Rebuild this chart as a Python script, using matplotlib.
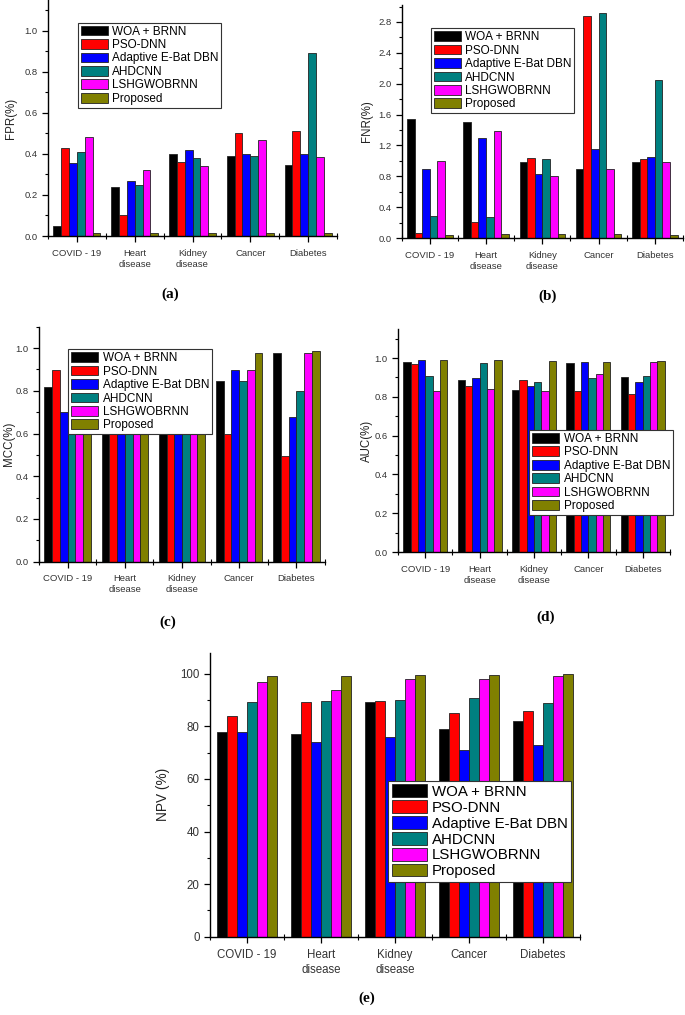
import numpy as np
import matplotlib
matplotlib.use('Agg')
import matplotlib.pyplot as plt
from matplotlib.ticker import MultipleLocator, FixedLocator

plt.rcParams['font.family'] = ['Liberation Sans', 'DejaVu Sans']

# categories and methods
categories = ['COVID - 19', 'Heart\ndisease', 'Kidney\ndisease', 'Cancer', 'Diabetes']
methods = ['WOA + BRNN', 'PSO-DNN', 'Adaptive E-Bat DBN', 'AHDCNN', 'LSHGWOBRNN', 'Proposed']
colors = ['#000000', '#FF0000', '#0000FF', '#008080', '#FF00FF', '#808000']

# values, one row per method (order of categories)
fpr_woa = [0.05, 0.24, 0.40, 0.39, 0.345]
fpr_pso = [0.43, 0.10, 0.36, 0.50, 0.51]
fpr_bat = [0.355, 0.27, 0.42, 0.40, 0.40]
fpr_ahd = [0.41, 0.25, 0.38, 0.39, 0.89]
fpr_lsh = [0.48, 0.32, 0.34, 0.47, 0.385]
fpr_prop = [0.015, 0.015, 0.015, 0.015, 0.015]

fnr_woa = [1.545, 1.50, 0.98, 0.90, 0.98]
fnr_pso = [0.065, 0.21, 1.035, 2.88, 1.02]
fnr_bat = [0.895, 1.295, 0.83, 1.16, 1.045]
fnr_ahd = [0.285, 0.27, 1.03, 2.92, 2.05]
fnr_lsh = [0.995, 1.39, 0.80, 0.90, 0.98]
fnr_prop = [0.045, 0.055, 0.055, 0.055, 0.045]

mcc_woa = [0.82, 0.80, 0.83, 0.847, 0.977]
mcc_pso = [0.895, 0.85, 0.80, 0.60, 0.497]
mcc_bat = [0.70, 0.78, 0.86, 0.895, 0.677]
mcc_ahd = [0.80, 0.88, 0.89, 0.847, 0.797]
mcc_lsh = [0.88, 0.92, 0.93, 0.895, 0.977]
mcc_prop = [0.95, 0.96, 0.97, 0.977, 0.988]

auc_woa = [0.978, 0.885, 0.837, 0.976, 0.902]
auc_pso = [0.971, 0.856, 0.885, 0.830, 0.817]
auc_bat = [0.988, 0.897, 0.856, 0.978, 0.878]
auc_ahd = [0.906, 0.973, 0.878, 0.897, 0.906]
auc_lsh = [0.829, 0.839, 0.830, 0.918, 0.978]
auc_prop = [0.991, 0.991, 0.985, 0.978, 0.986]

npv_woa = [77.9, 76.9, 89.1, 79.1, 82.0]
npv_pso = [83.9, 89.1, 89.5, 85.0, 86.0]
npv_bat = [77.9, 74.0, 75.8, 71.1, 73.0]
npv_ahd = [89.1, 89.5, 90.1, 90.9, 89.0]
npv_lsh = [97.0, 94.0, 98.0, 98.0, 99.0]
npv_prop = [99.0, 99.0, 99.5, 99.7, 99.8]

fig = plt.figure(figsize=(6.85, 10.15), dpi=100)
W, H = 685.0, 1015.0


def make_ax(left, right, bottom, top):
    return fig.add_axes([left / W, 1 - bottom / H, (right - left) / W, (bottom - top) / H])


def draw_panel(ax, series, ylabel, ymax, major, minor, tick_fs, leg_pos, leg_fs, leg_space, tag, tag_pos, ylab_x):
    x = np.arange(1, len(categories) + 1)
    bw = 0.135
    for i, (vals, c, m) in enumerate(zip(series, colors, methods)):
        ax.bar(x + (i - 2.5) * bw, vals, bw, color=c, edgecolor='#222222', linewidth=0.6, label=m)
    ax.set_xlim(0.5, len(categories) + 0.5)
    ax.set_ylim(0, ymax)
    ax.spines['top'].set_visible(False)
    ax.spines['right'].set_visible(False)
    ax.spines['left'].set_linewidth(1.0)
    ax.spines['bottom'].set_linewidth(1.0)
    ax.set_xticks(x)
    ax.set_xticklabels(categories, fontsize=tick_fs, color='#333333', linespacing=1.3)
    ax.xaxis.set_minor_locator(FixedLocator(np.arange(0.5, len(categories) + 1, 1.0)))
    ax.yaxis.set_major_locator(MultipleLocator(major))
    ax.yaxis.set_minor_locator(MultipleLocator(minor))
    ax.tick_params(axis='both', which='major', direction='out', length=4, width=0.9, labelsize=tick_fs, labelcolor='#333333')
    ax.tick_params(axis='both', which='minor', direction='out', length=2, width=0.8)
    ax.tick_params(axis='x', which='minor', direction='inout', length=5)
    ax.tick_params(axis='x', which='major', pad=5)
    ax.set_ylabel(ylabel, fontsize=tick_fs + 1.5, color='#222222')
    # y label placed by figure pixel position (x = right edge of rotated text)
    pos = ax.get_position()
    ax.yaxis.set_label_coords(ylab_x / W, 0.5 * (pos.y0 + pos.y1), transform=fig.transFigure)
    leg = ax.legend(loc='upper left', bbox_to_anchor=(leg_pos[0] / W, 1 - leg_pos[1] / H),
                    bbox_transform=fig.transFigure, fontsize=leg_fs, fancybox=False,
                    framealpha=1, edgecolor='#333333', borderpad=0.25, labelspacing=leg_space,
                    handlelength=2.3, handleheight=0.9, handletextpad=0.35, borderaxespad=0)
    leg.get_frame().set_linewidth(0.8)
    fig.text(tag_pos[0] / W, 1 - tag_pos[1] / H, tag, ha='center', va='center',
             fontsize=11, fontweight='bold', family='Liberation Serif')


ax_a = make_ax(48, 337, 236, 0)
draw_panel(ax_a, [fpr_woa, fpr_pso, fpr_bat, fpr_ahd, fpr_lsh, fpr_prop], 'FPR(%)',
           1.15, 0.2, 0.1, 6.8, (77.7, 22.7), 8.5, 0.12, '(a)', (170, 294), 17)

ax_b = make_ax(401.7, 683, 238, 5)
draw_panel(ax_b, [fnr_woa, fnr_pso, fnr_bat, fnr_ahd, fnr_lsh, fnr_prop], 'FNR(%)',
           3.02, 0.4, 0.2, 6.8, (430.7, 28.3), 8.5, 0.12, '(b)', (548, 296), 373)

ax_c = make_ax(39, 325, 561.7, 326.7)
draw_panel(ax_c, [mcc_woa, mcc_pso, mcc_bat, mcc_ahd, mcc_lsh, mcc_prop], 'MCC(%)',
           1.10, 0.2, 0.1, 6.8, (68.3, 349.3), 8.5, 0.12, '(c)', (168, 622), 15)

ax_d = make_ax(398, 670, 552, 329)
draw_panel(ax_d, [auc_woa, auc_pso, auc_bat, auc_ahd, auc_lsh, auc_prop], 'AUC(%)',
           1.15, 0.2, 0.1, 6.8, (529.3, 430), 8.5, 0.12, '(d)', (546, 617), 373)

ax_e = make_ax(210, 580, 936.7, 652.7)
draw_panel(ax_e, [npv_woa, npv_pso, npv_bat, npv_ahd, npv_lsh, npv_prop], 'NPV (%)',
           108, 20, 10, 8.3, (388.3, 780.7), 10.8, 0.1, '(e)', (367, 998), 170)

fig.savefig('out.png', dpi=100)
